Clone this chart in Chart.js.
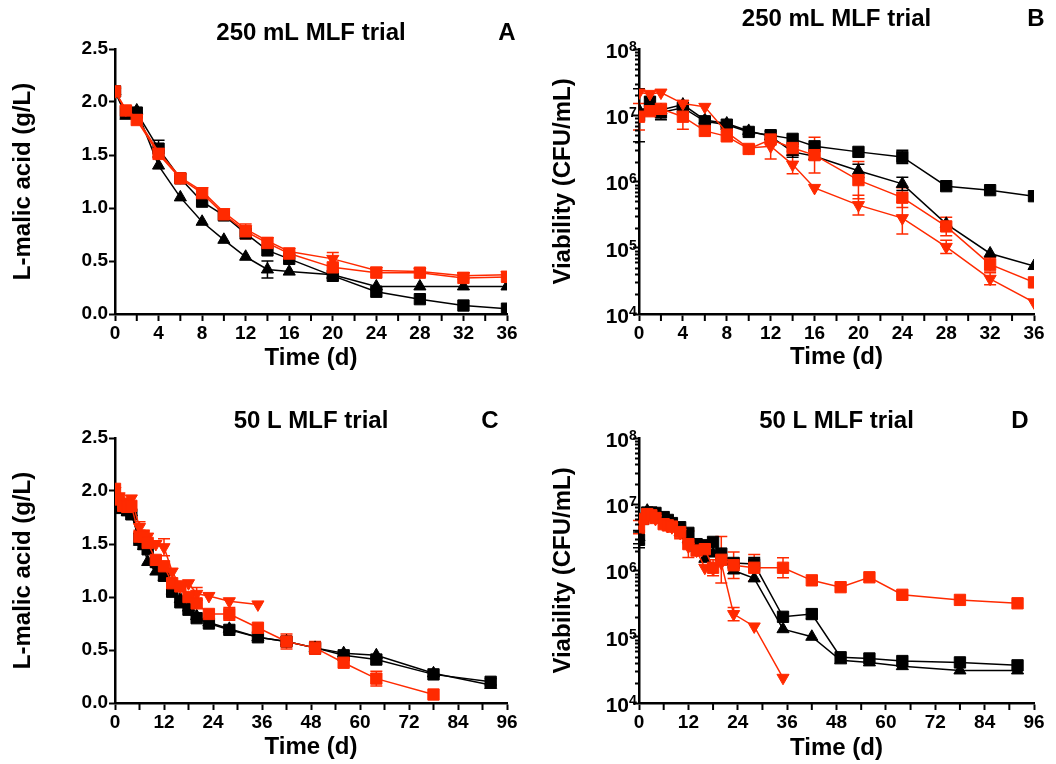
<!DOCTYPE html>
<html>
<head>
<meta charset="utf-8">
<script src="https://cdn.jsdelivr.net/npm/chart.js@4.4.0/dist/chart.umd.min.js"></script>
<style>
  body { margin: 0; background: #fff; }
  .panel { position: absolute; width: 528px; height: 382px; }
</style>
</head>
<body>
<div class="panel" style="left:0;top:0"><canvas id="chartA" width="528" height="382"></canvas></div>
<div class="panel" style="left:528px;top:0"><canvas id="chartB" width="528" height="382"></canvas></div>
<div class="panel" style="left:0;top:382px"><canvas id="chartC" width="528" height="382"></canvas></div>
<div class="panel" style="left:528px;top:382px"><canvas id="chartD" width="528" height="382"></canvas></div>
<script>
// --- time points (d) ---
const days250 = [0, 1, 2, 4, 6, 8, 10, 12, 14, 16, 20, 24, 28, 32, 36];
const days50 = [0, 1, 2, 3, 4, 6, 7, 8, 10, 12, 14, 16, 18, 20, 23, 28, 35, 42, 49, 56, 64, 78, 92];

// --- A: L-malic acid, 250 mL (g/L) ---
const aBlackSq  = [2.1, 1.9, 1.9, 1.56, 1.28, 1.06, 0.93, 0.76, 0.6, 0.52, 0.36, 0.21, 0.14, 0.08, 0.05];
const aBlackTri = [2.1, 1.87, 1.92, 1.4, 1.1, 0.87, 0.7, 0.54, 0.42, 0.4, 0.37, 0.26, 0.26, 0.26, 0.26];
const aRedSq    = [2.1, 1.92, 1.83, 1.51, 1.28, 1.14, 0.94, 0.78, 0.67, 0.57, 0.44, 0.39, 0.39, 0.34, 0.35];
const aRedTri   = [2.1, 1.93, 1.85, 1.53, 1.29, 1.16, 0.96, 0.8, 0.69, 0.59, 0.52, 0.41, 0.4, 0.36, 0.37];
const aErrBlackSq  = [0, 0, 0, 0.08, 0, 0, 0, 0, 0, 0, 0, 0, 0, 0, 0];
const aErrBlackTri = [0, 0, 0, 0, 0, 0, 0, 0, 0.08, 0, 0, 0, 0, 0, 0];
const aErrRedSq    = [0, 0, 0, 0.03, 0, 0, 0, 0.07, 0, 0, 0, 0, 0, 0, 0];
const aErrRedTri   = [0, 0, 0, 0, 0, 0, 0, 0, 0, 0, 0.06, 0, 0, 0.03, 0];

// --- B: viability, 250 mL (CFU/mL); errors are log10 half-widths ---
const bBlackSq  = [1.0e7, 1.6e7, 1.1e7, 1.3e7, 8.1e6, 7.2e6, 5.6e6, 5.0e6, 4.4e6, 3.4e6, 2.8e6, 2.35e6, 8.5e5, 7.4e5, 6.0e5];
const bBlackTri = [1.2e7, 1.3e7, 1.2e7, 1.45e7, 8.5e6, 7.5e6, 5.8e6, 4.8e6, 2.8e6, 2.4e6, 1.45e6, 9.2e5, 2.3e5, 8.2e4, 5.3e4];
const bRedSq    = [9.5e6, 1.15e7, 1.25e7, 9.5e6, 5.8e6, 4.8e6, 3.1e6, 4.3e6, 3.2e6, 2.5e6, 1.05e6, 5.7e5, 2.1e5, 5.6e4, 3.0e4];
const bRedTri   = [2.2e7, 2.1e7, 2.2e7, 1.5e7, 1.34e7, 5.5e6, 3.2e6, 3.4e6, 1.8e6, 8.0e5, 4.4e5, 2.8e5, 1.03e5, 3.4e4, 1.5e4];
const bErrBlackSq  = [0.4, 0.06, 0.11, 0, 0, 0, 0, 0.06, 0, 0, 0, 0.1, 0, 0, 0];
const bErrBlackTri = [0, 0, 0, 0, 0, 0, 0, 0, 0.08, 0, 0.1, 0.1, 0, 0, 0];
const bErrRedSq    = [0.2, 0, 0, 0.19, 0, 0, 0, 0, 0.05, 0.27, 0.28, 0.15, 0.14, 0.1, 0];
const bErrRedTri   = [0, 0, 0, 0, 0, 0, 0, 0.19, 0.14, 0, 0.15, 0.24, 0.1, 0.09, 0];

// --- C: L-malic acid, 50 L (g/L) ---
const cBlackSq  = [1.85, 1.88, 1.85, 1.82, 1.78, 1.55, 1.5, 1.45, 1.33, 1.2, 1.05, 0.95, 0.88, 0.8, 0.75, 0.69, 0.62, 0.58, 0.52, 0.45, 0.41, 0.27, 0.2];
const cBlackTri = [1.82, 1.9, 1.85, 1.8, 1.8, 1.52, 1.48, 1.33, 1.24, 1.19, 1.06, 0.98, 0.9, 0.82, 0.76, 0.7, 0.62, 0.58, 0.52, 0.47, 0.45, 0.28, 0.17];
const cRedSq    = [2.02, 1.92, 1.86, 1.85, 1.86, 1.57, 1.57, 1.51, 1.35, 1.29, 1.13, 1.1, 1.0, 0.94, 0.84, 0.84, 0.71, 0.58, 0.52, 0.38, 0.23, 0.08, null];
const cRedTri   = [2.0, 1.95, 1.9, 1.88, 1.93, 1.66, 1.6, 1.57, 1.5, 1.47, 1.24, 1.1, 1.13, 1.03, 1.01, 0.96, 0.93, null, null, null, null, null, null];
const cErrBlackSq  = [0, 0, 0, 0, 0, 0.05, 0, 0, 0, 0, 0, 0, 0, 0, 0, 0, 0, 0, 0, 0, 0, 0, 0.03];
const cErrBlackTri = [0, 0, 0, 0, 0, 0, 0, 0, 0, 0, 0, 0, 0, 0, 0, 0, 0, 0, 0, 0, 0, 0, 0];
const cErrRedSq    = [0, 0, 0, 0, 0, 0.06, 0, 0, 0, 0, 0, 0, 0, 0, 0, 0.06, 0, 0.07, 0.06, 0, 0.07, 0, 0];
const cErrRedTri   = [0, 0, 0, 0, 0, 0.05, 0, 0, 0, 0.08, 0, 0, 0, 0.06, 0, 0, 0, 0, 0, 0, 0, 0, 0];

// --- D: viability, 50 L (CFU/mL); errors are log10 half-widths ---
const dBlackSq  = [2.9e6, 6.0e6, 7.5e6, 7.5e6, 7.4e6, 6.4e6, 5.8e6, 5.2e6, 4.5e6, 3.7e6, 2.5e6, 2.4e6, 2.7e6, 1.8e6, 1.3e6, 1.25e6, 2.0e5, 2.2e5, 4.9e4, 4.7e4, 4.3e4, 4.1e4, 3.7e4];
const dBlackTri = [3.2e6, 6.5e6, 8.0e6, 7.0e6, 6.5e6, 5.8e6, 5.2e6, 4.6e6, 3.8e6, 3.0e6, 2.2e6, 1.5e6, 1.8e6, 1.6e6, 1.0e6, 7.6e5, 1.3e5, 1.0e5, 4.4e4, 4.1e4, 3.6e4, 3.1e4, 3.1e4];
const dRedSq    = [4.5e6, 6.0e6, 7.1e6, 6.8e6, 6.2e6, 5.0e6, 4.8e6, 4.6e6, 3.8e6, 2.5e6, 2.0e6, 2.1e6, 1.1e6, 1.45e6, 1.2e6, 1.1e6, 1.1e6, 7.1e5, 5.6e5, 7.9e5, 4.3e5, 3.6e5, 3.2e5];
const dRedTri   = [4.8e6, 6.0e6, 7.0e6, 6.5e6, 6.0e6, 5.0e6, 4.7e6, 4.5e6, 3.7e6, 2.3e6, 2.0e6, 1.1e6, 1.05e6, 1.3e6, 2.2e5, 1.43e5, 2.4e4, null, null, null, null, null, null];
const dErrBlackSq  = [0.12, 0, 0, 0, 0, 0, 0, 0, 0, 0, 0, 0, 0, 0, 0, 0.1, 0, 0.07, 0, 0, 0, 0, 0];
const dErrBlackTri = [0.1, 0, 0, 0, 0, 0, 0, 0, 0, 0, 0, 0, 0, 0, 0, 0, 0, 0, 0, 0, 0, 0, 0];
const dErrRedSq    = [0.1, 0, 0, 0, 0, 0, 0, 0, 0.1, 0.2, 0, 0, 0.12, 0.35, 0.2, 0.2, 0.15, 0, 0, 0, 0, 0, 0];
const dErrRedTri   = [0, 0, 0, 0, 0, 0, 0, 0, 0, 0, 0, 0, 0, 0, 0.1, 0, 0, 0, 0, 0, 0, 0, 0];

// log axis decades
const decades = [4, 5, 6, 7, 8];

const BLACK = '#000000';
const RED = '#ff2a00';
const FONT = 'Arial, "Liberation Sans", Helvetica, sans-serif';

// one dataset per series
const series = (days, vals, errs, color, shape) => ({
    data: days.map((d, i) => ({ x: d, y: vals[i] })),
    errs: errs,
    borderColor: color,
    backgroundColor: color,
    pointBackgroundColor: color,
    pointBorderColor: color,
    borderWidth: 1.5,
    pointBorderWidth: 1,
    pointStyle: shape === 'sq' ? 'rect' : 'triangle',
    pointRotation: shape === 'down' ? 180 : 0,
    pointRadius: shape === 'sq' ? 8 : 7,
    pointHoverRadius: shape === 'sq' ? 8 : 7,
    tension: 0,
    spanGaps: false
});

// vertical error bars with caps, drawn under the markers
const errorBars = {
    id: 'errorBars',
    beforeDatasetsDraw(chart) {
        const ctx = chart.ctx;
        const xs = chart.scales.x, ys = chart.scales.y;
        const isLog = ys.type === 'logarithmic';
        chart.data.datasets.forEach(ds => {
            ctx.save();
            ctx.strokeStyle = ds.borderColor;
            ctx.lineWidth = 1.5;
            ctx.beginPath();
            ds.data.forEach((p, j) => {
                const e = ds.errs[j];
                if (!e || p.y == null) return;
                const lo = isLog ? p.y / Math.pow(10, e) : p.y - e;
                const hi = isLog ? p.y * Math.pow(10, e) : p.y + e;
                const px = xs.getPixelForValue(p.x);
                const y1 = ys.getPixelForValue(lo), y2 = ys.getPixelForValue(hi);
                ctx.moveTo(px, y1); ctx.lineTo(px, y2);
                ctx.moveTo(px - 6, y1); ctx.lineTo(px + 6, y1);
                ctx.moveTo(px - 6, y2); ctx.lineTo(px + 6, y2);
            });
            ctx.stroke();
            ctx.restore();
        });
    }
};

// minor ticks (half steps on x, 2..9 per decade on log y) and 10^n labels
const axisExtras = {
    id: 'axisExtras',
    afterDraw(chart) {
        const { ctx, chartArea } = chart;
        const xs = chart.scales.x, ys = chart.scales.y;
        ctx.save();
        ctx.strokeStyle = '#000';
        ctx.lineWidth = 2;
        ctx.beginPath();
        const step = xs.options.ticks.stepSize;
        for (let v = step / 2; v < xs.max; v += step) {
            const px = xs.getPixelForValue(v);
            ctx.moveTo(px, chartArea.bottom);
            ctx.lineTo(px, chartArea.bottom + 7);
        }
        if (ys.type === 'logarithmic') {
            for (let n = 4; n < 8; n++) {
                for (let m = 2; m < 10; m++) {
                    const py = Math.round(ys.getPixelForValue(m * Math.pow(10, n))) + 0.5;
                    ctx.moveTo(chartArea.left, py);
                    ctx.lineTo(chartArea.left - 4, py);
                }
            }
        }
        ctx.stroke();

        if (ys.type === 'logarithmic') {
            ctx.fillStyle = '#000';
            ctx.textBaseline = 'middle';
            decades.forEach(n => {
                const py = ys.getPixelForValue(Math.pow(10, n));
                ctx.font = 'bold 21px ' + FONT;
                ctx.textAlign = 'right';
                ctx.fillText('10', chartArea.left - 10, py + 3);
                ctx.font = 'bold 14px ' + FONT;
                ctx.textAlign = 'left';
                ctx.fillText(String(n), chartArea.left - 10, py - 2);
            });
        }
        ctx.restore();
    }
};

// panel heading and letter
const panelText = {
    id: 'panelText',
    afterDraw(chart, args, opts) {
        const ctx = chart.ctx;
        const { chartArea } = chart;
        ctx.save();
        ctx.fillStyle = '#000';
        ctx.font = 'bold 24px ' + FONT;
        ctx.textAlign = 'center';
        ctx.textBaseline = 'middle';
        ctx.fillText(opts.title, (chartArea.left + chartArea.right) / 2, opts.titleY);
        ctx.fillText(opts.letter, opts.letterX, opts.titleY);
        ctx.restore();
    }
};

const makePanel = (id, cfg) => {
    const yScale = cfg.log ? {
        type: 'logarithmic',
        min: 1e4,
        max: 1e8,
        afterBuildTicks: s => { s.ticks = decades.map(n => ({ value: Math.pow(10, n) })); },
        ticks: { callback: () => '' }
    } : {
        type: 'linear',
        min: 0,
        max: 2.5,
        ticks: {
            stepSize: 0.5, color: '#000', padding: 1,
            font: { family: FONT, size: 19, weight: 'bold' },
            callback: v => v.toFixed(1)
        }
    };
    Object.assign(yScale, {
        afterFit: s => { s.width = cfg.left; },
        border: { color: '#000', width: 2.5 },
        grid: { display: true, drawOnChartArea: false, drawTicks: true, tickLength: 6, color: '#000', tickWidth: 2 },
        title: {
            display: true, text: cfg.yTitle, color: '#000',
            font: { family: FONT, size: 24, weight: 'bold' },
            padding: { top: cfg.yTitlePad, bottom: 0 }
        }
    });

    return new Chart(document.getElementById(id), {
        type: 'line',
        data: { datasets: cfg.datasets },
        options: {
            responsive: false,
            animation: false,
            layout: { padding: { top: cfg.top, right: 528 - cfg.right, left: 0, bottom: 0 } },
            plugins: {
                legend: { display: false },
                tooltip: { enabled: false },
                panelText: { title: cfg.title, letter: cfg.letter, titleY: cfg.titleY, letterX: cfg.letterX }
            },
            scales: {
                x: {
                    type: 'linear',
                    min: 0,
                    max: cfg.xMax,
                    afterFit: s => { s.height = 382 - cfg.bottom; },
                    border: { color: '#000', width: 2.5 },
                    grid: { display: true, drawOnChartArea: false, drawTicks: true, tickLength: 7, color: '#000', tickWidth: 2 },
                    ticks: {
                        stepSize: cfg.xStep, color: '#000', padding: 1, maxRotation: 0, autoSkip: false,
                        font: { family: FONT, size: 19, weight: 'bold' }
                    },
                    title: {
                        display: true, text: 'Time (d)', color: '#000',
                        font: { family: FONT, size: 24, weight: 'bold' },
                        padding: { top: 0, bottom: cfg.xTitlePad }
                    }
                },
                y: yScale
            }
        },
        plugins: [errorBars, axisExtras, panelText]
    });
};

makePanel('chartA', {
    left: 115, right: 507, top: 49, bottom: 314, xMax: 36, xStep: 4, log: false,
    yTitle: 'L-malic acid (g/L)', yTitlePad: 9, xTitlePad: 9,
    title: '250 mL MLF trial', titleY: 33, letter: 'A', letterX: 507,
    datasets: [
        series(days250, aRedSq, aErrRedSq, RED, 'sq'),
        series(days250, aRedTri, aErrRedTri, RED, 'down'),
        series(days250, aBlackSq, aErrBlackSq, BLACK, 'sq'),
        series(days250, aBlackTri, aErrBlackTri, BLACK, 'up')
    ]
});

makePanel('chartB', {
    left: 111, right: 506, top: 49, bottom: 314, xMax: 36, xStep: 4, log: true,
    yTitle: 'Viability (CFU/mL)', yTitlePad: 21, xTitlePad: 10,
    title: '250 mL MLF trial', titleY: 19, letter: 'B', letterX: 508,
    datasets: [
        series(days250, bRedSq, bErrRedSq, RED, 'sq'),
        series(days250, bRedTri, bErrRedTri, RED, 'down'),
        series(days250, bBlackSq, bErrBlackSq, BLACK, 'sq'),
        series(days250, bBlackTri, bErrBlackTri, BLACK, 'up')
    ]
});

makePanel('chartC', {
    left: 115, right: 507, top: 56, bottom: 321, xMax: 96, xStep: 12, log: false,
    yTitle: 'L-malic acid (g/L)', yTitlePad: 9, xTitlePad: 2,
    title: '50 L MLF trial', titleY: 39, letter: 'C', letterX: 490,
    datasets: [
        series(days50, cRedSq, cErrRedSq, RED, 'sq'),
        series(days50, cRedTri, cErrRedTri, RED, 'down'),
        series(days50, cBlackSq, cErrBlackSq, BLACK, 'sq'),
        series(days50, cBlackTri, cErrBlackTri, BLACK, 'up')
    ]
});

makePanel('chartD', {
    left: 111, right: 506, top: 56, bottom: 321, xMax: 96, xStep: 12, log: true,
    yTitle: 'Viability (CFU/mL)', yTitlePad: 21, xTitlePad: 1,
    title: '50 L MLF trial', titleY: 39, letter: 'D', letterX: 492,
    datasets: [
        series(days50, dRedSq, dErrRedSq, RED, 'sq'),
        series(days50, dRedTri, dErrRedTri, RED, 'down'),
        series(days50, dBlackSq, dErrBlackSq, BLACK, 'sq'),
        series(days50, dBlackTri, dErrBlackTri, BLACK, 'up')
    ]
});
</script>
</body>
</html>
